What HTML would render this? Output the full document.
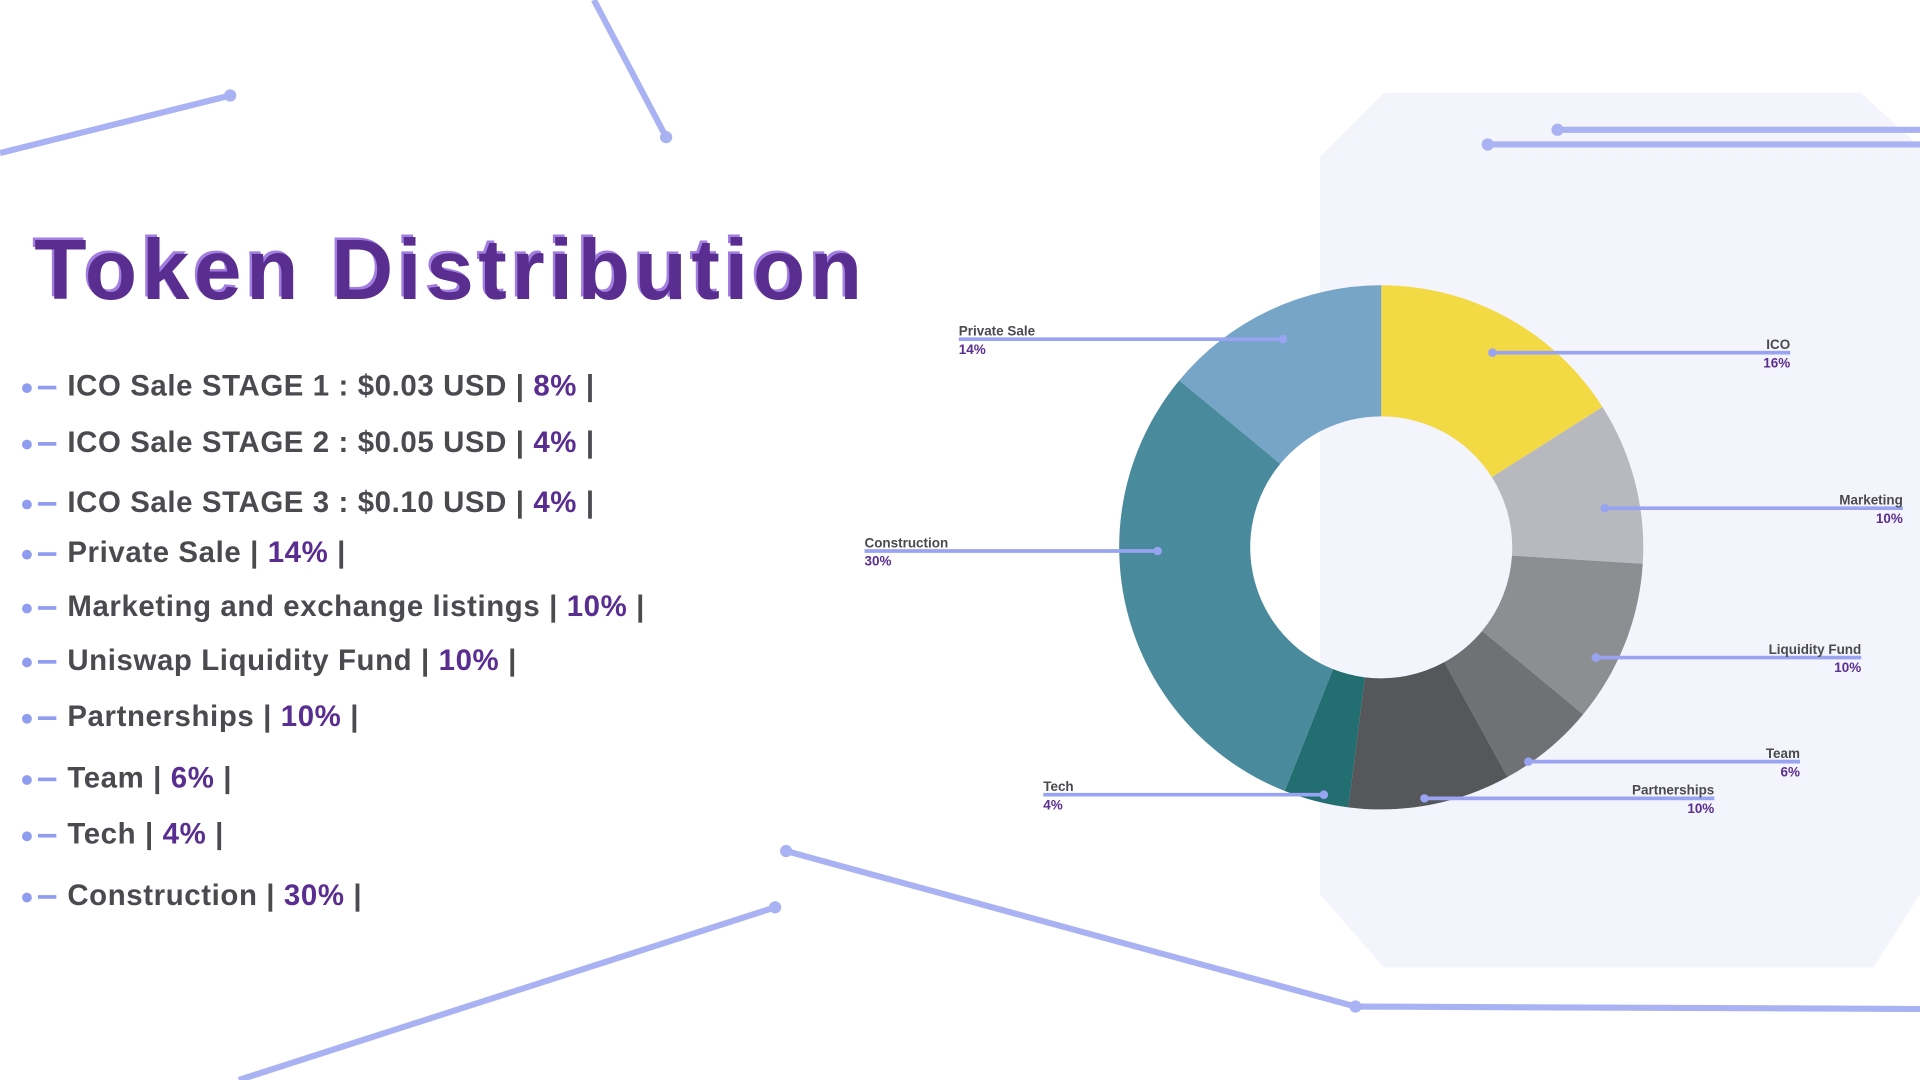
<!DOCTYPE html>
<html><head><meta charset="utf-8"><style>
html,body{margin:0;padding:0;width:1920px;height:1080px;overflow:hidden;background:#fff}
#stage{position:absolute;left:0;top:0;width:1568px;height:882px;transform:scale(1.224490);transform-origin:0 0;font-family:"Liberation Sans",sans-serif}
.title{position:absolute;left:28px;top:180px;font-size:70px;font-weight:bold;color:#5a2d91;letter-spacing:3.7px;text-shadow:-2px -2px 0 #a27ee0}
.item{position:absolute;left:18px;font-size:24px;letter-spacing:0.5px;font-weight:bold;color:#4a4a4f;white-space:nowrap}
.item .dot{display:inline-block;width:8px;height:8px;border-radius:50%;background:#8f9cf0;vertical-align:middle;margin-right:5px}
.item .dash{display:inline-block;width:15px;height:3px;background:#8f9cf0;vertical-align:middle;margin-right:9px}
.item b{color:#5a2d91}
</style></head><body>
<div id="stage">
<svg width="1568" height="882" style="position:absolute;left:0;top:0">
<polygon points="1130,76 1520,76 1568,120 1568,730 1530,790 1130,790 1078,730 1078,128" fill="#f3f4fc"/>
<g stroke="#a9b2f3" stroke-width="5" fill="#a9b2f3">
<line x1="0" y1="125" x2="188" y2="78"/><circle cx="188" cy="78" r="5" stroke="none"/>
<line x1="485" y1="0" x2="544" y2="112"/><circle cx="544" cy="112" r="5" stroke="none"/>
<line x1="1272" y1="106" x2="1568" y2="106"/><circle cx="1272" cy="106" r="5" stroke="none"/>
<line x1="1215" y1="118" x2="1568" y2="118"/><circle cx="1215" cy="118" r="5" stroke="none"/>
<line x1="195" y1="882" x2="633" y2="741"/><circle cx="633" cy="741" r="5" stroke="none"/>
<line x1="642" y1="695" x2="1107" y2="822"/><line x1="1107" y1="822" x2="1568" y2="824"/><circle cx="642" cy="695" r="5" stroke="none"/><circle cx="1107" cy="822" r="5" stroke="none"/>
</g>
</svg>
<div class="title">Token Distribution</div>
<div class="item" style="top:302px"><span class="dot"></span><span class="dash"></span>ICO Sale STAGE 1 : $0.03 USD | <b>8%</b> |</div>
<div class="item" style="top:348px"><span class="dot"></span><span class="dash"></span>ICO Sale STAGE 2 : $0.05 USD | <b>4%</b> |</div>
<div class="item" style="top:397px"><span class="dot"></span><span class="dash"></span>ICO Sale STAGE 3 : $0.10 USD | <b>4%</b> |</div>
<div class="item" style="top:438px"><span class="dot"></span><span class="dash"></span>Private Sale | <b>14%</b> |</div>
<div class="item" style="top:482px"><span class="dot"></span><span class="dash"></span>Marketing and exchange listings | <b>10%</b> |</div>
<div class="item" style="top:526px"><span class="dot"></span><span class="dash"></span>Uniswap Liquidity Fund | <b>10%</b> |</div>
<div class="item" style="top:572px"><span class="dot"></span><span class="dash"></span>Partnerships | <b>10%</b> |</div>
<div class="item" style="top:622px"><span class="dot"></span><span class="dash"></span>Team | <b>6%</b> |</div>
<div class="item" style="top:668px"><span class="dot"></span><span class="dash"></span>Tech | <b>4%</b> |</div>
<div class="item" style="top:718px"><span class="dot"></span><span class="dash"></span>Construction | <b>30%</b> |</div>
<svg id="donut" width="1568" height="882" style="position:absolute;left:0;top:0"></svg>
</div>
<script>
const categories=["ICO","Marketing","Liquidity Fund","Team","Partnerships","Tech","Construction","Private Sale"];
const values=[16,10,10,6,10,4,30,14];
const colors=["#f3d944","#b8b9bf","#8d8e92","#707175","#56575b","#236e70","#498a9c","#77a5c8"];
const labelX=[1462,1554,1520,1470,1400,852,706,783];
const labelY=[288,415,537,622,652,649,450,277];
const labelSide=["r","r","r","r","r","l","l","l"];
const svg=document.getElementById('donut');
const NS="http://www.w3.org/2000/svg";
const cx=1128,cy=447,R=214,r=107;
const total=values.reduce((a,b)=>a+b,0);
function pt(a,rad){return [cx+rad*Math.sin(a),cy-rad*Math.cos(a)];}
let acc=0;
values.forEach((v,i)=>{
 const a0=acc/total*2*Math.PI; acc+=v; const a1=acc/total*2*Math.PI;
 const lg=(a1-a0)>Math.PI?1:0;
 const p0=pt(a0,R),p1=pt(a1,R),q1=pt(a1,r),q0=pt(a0,r);
 const p=document.createElementNS(NS,'path');
 p.setAttribute('d',`M${p0[0]},${p0[1]}A${R},${R} 0 ${lg} 1 ${p1[0]},${p1[1]}L${q1[0]},${q1[1]}A${r},${r} 0 ${lg} 0 ${q0[0]},${q0[1]}Z`);
 p.setAttribute('fill',colors[i]);
 
 
 svg.appendChild(p);
});
acc=0;
values.forEach((v,i)=>{
 const am=(acc+v/2)/total*2*Math.PI; acc+=v;
 const m=pt(am,(R+r)/2+28);
 const y=labelY[i];
 const g=document.createElementNS(NS,'g');
 
 
 const ln=document.createElementNS(NS,'line');
 ln.setAttribute('x1',m[0]);ln.setAttribute('y1',y);ln.setAttribute('x2',labelX[i]);ln.setAttribute('y2',y);
 ln.setAttribute('stroke','#98a4f2');ln.setAttribute('stroke-width','3');
 g.appendChild(ln);
 const c=document.createElementNS(NS,'circle');
 c.setAttribute('cx',m[0]);c.setAttribute('cy',y);c.setAttribute('r','3.5');c.setAttribute('fill','#98a4f2');
 g.appendChild(c);
 const anchor=labelSide[i]==="r"?"end":"start";
 const t1=document.createElementNS(NS,'text');
 t1.setAttribute('x',labelX[i]);t1.setAttribute('y',y-3);t1.setAttribute('text-anchor',anchor);
 t1.setAttribute('font-size','11');t1.setAttribute('font-weight','bold');t1.setAttribute('fill','#4a4a4f');
 t1.textContent=categories[i];
 g.appendChild(t1);
 const t2=document.createElementNS(NS,'text');
 t2.setAttribute('x',labelX[i]);t2.setAttribute('y',y+12);t2.setAttribute('text-anchor',anchor);
 t2.setAttribute('font-size','11');t2.setAttribute('font-weight','bold');t2.setAttribute('fill','#5a2d91');
 t2.textContent=v+"%";
 g.appendChild(t2);
 svg.appendChild(g);
});
</script>
</body></html>
